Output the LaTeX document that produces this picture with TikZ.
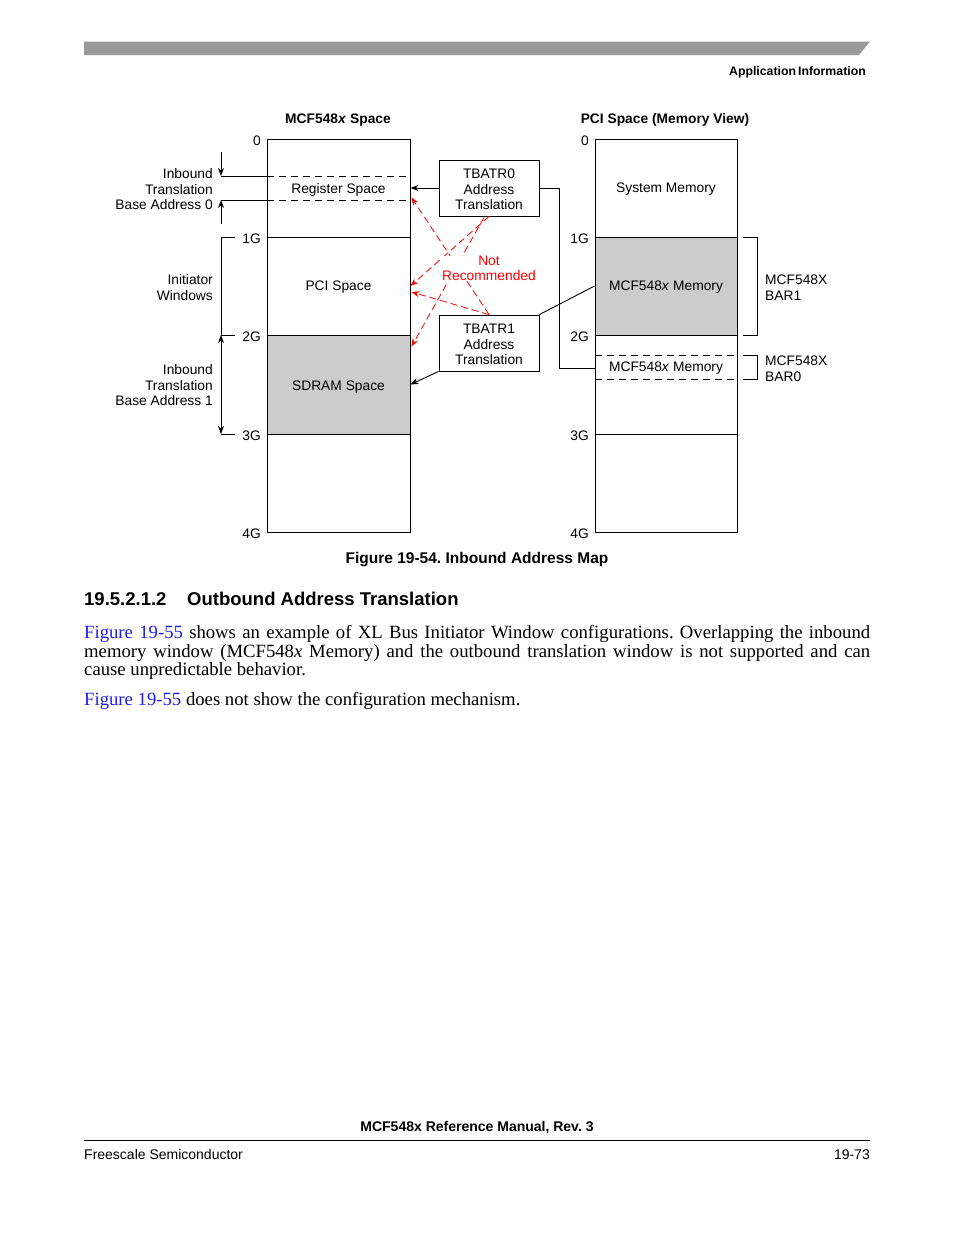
\documentclass[tikz,border=0pt]{standalone}
\usepackage{fontspec}
\setmainfont{Liberation Serif}
\setsansfont{Liberation Sans}
\usetikzlibrary{arrows.meta,calc}
\definecolor{barg}{gray}{0.6}
\definecolor{fillg}{gray}{0.8}
\definecolor{linkb}{RGB}{30,30,230}
\tikzset{
  ln/.style={line width=0.9pt},
  lf/.style={font=\sffamily\fontsize{13.8}{15.5}\selectfont},
  lbl/.style={lf, inner sep=0pt, align=center, yshift=-1.5pt},
  ttl/.style={font=\sffamily\bfseries\fontsize{13.8}{15.5}\selectfont, inner sep=0pt, yshift=-2pt},
  seg/.style={draw, ln, minimum width=143pt, minimum height=98pt, inner sep=0pt},
  rseg/.style={draw, ln, minimum width=142pt, minimum height=98pt, inner sep=0pt},
  tbox/.style={draw, ln, minimum width=100pt, minimum height=56pt, inner sep=0pt},
  blk/.style={ln, -{Stealth[length=8pt,width=6pt]}},
  dblk/.style={ln, {Stealth[length=8pt,width=6pt]}-{Stealth[length=8pt,width=6pt]}},
  dsh/.style={ln, dash pattern=on 7pt off 5pt},
  redarr/.style={red, line width=0.8pt, dash pattern=on 7pt off 4pt, -{Stealth[length=8pt,width=6pt]}},
}
\begin{document}
\frenchspacing
\begin{tikzpicture}[x=1pt,y=-1pt]
\useasboundingbox (0,0) rectangle (954,1235);
\fill[white] (0,0) rectangle (954,1235);

% header
\fill[barg] (84,41.5) -- (870,41.5) -- (859,55) -- (84,55) -- cycle;
\node[font=\sffamily\bfseries\fontsize{12.3}{14}\selectfont, inner sep=0pt, anchor=base east] (hdr) at (866,75) {Application\,Information};

% titles
\node[ttl] (t1) at (338,118) {MCF548\textit{x} Space};
\node[ttl] (t2) at (665,118) {PCI Space (Memory View)};

% left column
\node[seg] (l0) at (338.5,188) {};
\node[seg] (l1) at (338.5,286) {};
\node[seg, fill=fillg, minimum height=99pt] (l2) at (338.5,384.5) {};
\node[seg] (l3) at (338.5,483) {};
\node[lbl] (reg) at (338.5,188) {Register Space};
\node[lbl] (pcit) at (l1) {PCI Space};
\node[lbl] (sdt) at (338.5,386) {SDRAM Space};
\draw[ln] (221,176) -- (267,176);
\draw[dsh] (267,176) -- (410,176);
\draw[ln] (221,200) -- (267,200);
\draw[dsh] (267,200) -- (410,200);

% right column
\node[rseg] (r0) at (666,188) {};
\node[rseg, fill=fillg] (r1) at (666,286) {};
\node[rseg, minimum height=99pt] (r2) at (666,384.5) {};
\node[rseg] (r3) at (666,483) {};
\node[lbl] (smt) at (r0) {System Memory};
\node[lbl] (m1t) at (r1) {MCF548\textit{x} Memory};
\node[lbl] (bm0) at (666,367) {MCF548\textit{x} Memory};
\draw[dsh] (595,355) -- (737,355);
\draw[dsh] (595,379) -- (737,379);

% address labels
\foreach \y/\t in {139/0,237/1G,335/2G,434/3G,532/4G}{
  \node[lbl, anchor=east] (la\t) at (261,\y) {\t};
  \node[lbl, anchor=east] (ra\t) at (589,\y) {\t};
}

% left annotations
\node[lbl, align=right, anchor=east] (ib0) at (213,188) {Inbound\\Translation\\Base Address 0};
\node[lbl, align=right, anchor=east] (iw) at (213,286) {Initiator\\Windows};
\node[lbl, align=right, anchor=east] (ib1) at (213,384) {Inbound\\Translation\\Base Address 1};
\coordinate (a0s) at (221,152);
\coordinate (a0e) at (221,176);
\coordinate (a1s) at (221,224);
\coordinate (a1e) at (221,200);
\draw[blk] (a0s) -- (a0e);
\draw[blk] (a1s) -- (a1e);
\draw[ln] (235,237) -- (221,237) -- (221,335) -- (235,335);
\draw[dblk] (221,335) -- (221,434);
\draw[ln] (221,434) -- (235,434);

% translation boxes
\node[tbox] (tb0) at (489,188) {};
\node[tbox] (tb1) at (489,343) {};
\node[lbl] (tb0t) at (tb0) {TBATR0\\Address\\Translation};
\node[lbl] (tb1t) at (tb1) {TBATR1\\Address\\Translation};
\coordinate (j0) at (559,188);
\draw[blk] (tb0.west) -- (tb0.west -| l0.east);
\draw[ln] (tb0.east) -- (j0) |- (bm0.west -| r2.west);
\draw[ln] (tb1.north east) -- (r1.west);
\draw[blk] (tb1.south west) -- (l2.east);

% not recommended
\draw[redarr] (tb0.south) -- (l1.east);
\draw[redarr] ($(tb0.south)+(-5,1)$) -- ($(l2.north east)+(1,12)$);
\draw[redarr] (tb1.north) -- ($(l0.south east)+(1,-40)$);
\draw[redarr] (tb1.north) -- ($(l1.east)+(1,6)$);
\node[lbl, text=red, fill=white] (nr) at (489,267) {Not\\Recommended};

% brackets
\draw[ln] (743,237) -- (757,237) -- (757,335) -- (743,335);
\node[lbl, align=left, anchor=west] (b1) at (765,286) {MCF548X\\BAR1};
\draw[ln] (743,355) -- (757,355) -- (757,379) -- (743,379);
\node[lbl, align=left, anchor=west] (b0) at (765,367) {MCF548X\\BAR0};

% caption
\node[font=\sffamily\bfseries\fontsize{15.5}{17}\selectfont, inner sep=0pt, yshift=-2pt] (cap) at (477,558) {Figure 19-54. Inbound Address Map};

% heading
\node[font=\sffamily\bfseries\fontsize{18.5}{20}\selectfont, inner sep=0pt, anchor=base west] (hn) at (84,605) {19.5.2.1.2};
\node[font=\sffamily\bfseries\fontsize{18.5}{20}\selectfont, inner sep=0pt, anchor=base west] (ht) at (187,605) {Outbound Address Translation};

% body
\node[font=\rmfamily\fontsize{18.7}{18.8}\selectfont, inner sep=0pt, anchor=north west, text width=786pt, align=justify] (p1) at (84,625)
{\noindent\textcolor{linkb}{Figure 19-55} shows an example of XL Bus Initiator Window configurations. Overlapping the inbound\linebreak memory window (MCF548\textit{x} Memory) and the outbound translation window is not supported and can\linebreak cause unpredictable behavior.};
\node[font=\rmfamily\fontsize{18.7}{18.8}\selectfont, inner sep=0pt, anchor=north west] (p2) at (84,692)
{\textcolor{linkb}{Figure 19-55} does not show the configuration mechanism.};

% footer
\node[font=\sffamily\bfseries\fontsize{14}{16}\selectfont, inner sep=0pt, anchor=base] (ft) at (477,1131) {MCF548x Reference Manual, Rev. 3};
\draw[line width=1pt] (84,1140) -- (870,1140);
\node[font=\sffamily\fontsize{14}{16}\selectfont, inner sep=0pt, anchor=base west] (fl) at (84,1159) {Freescale Semiconductor};
\node[font=\sffamily\fontsize{14}{16}\selectfont, inner sep=0pt, anchor=base east] (fr) at (870,1159) {19-73};
\end{tikzpicture}
\end{document}
